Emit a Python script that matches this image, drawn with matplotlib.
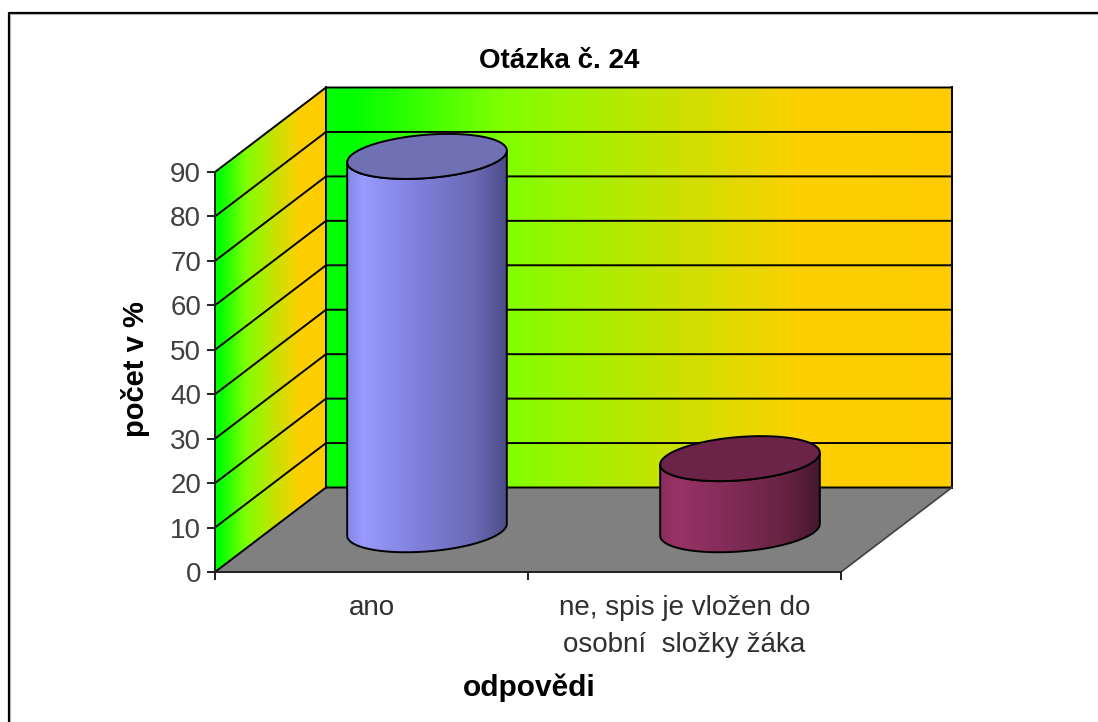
import numpy as np
import matplotlib
matplotlib.use("Agg")
import matplotlib.pyplot as plt
from matplotlib.colors import LinearSegmentedColormap
from matplotlib.patches import Polygon
from matplotlib.lines import Line2D

# ---- data ----
title = "Otázka č. 24"
x_title = "odpovědi"
y_title = "počet v %"
categories = ["ano", "ne, spis je vložen do\nosobní  složky žáka"]
values = [84, 16]
y_ticks = [0, 10, 20, 30, 40, 50, 60, 70, 80, 90]
side_colors = [["#8686e6", "#9999ff", "#7c7cd6", "#6a6ab4", "#4c4c8a"],
               ["#8a2d5c", "#993366", "#7d2a55", "#64233f", "#451730"]]
top_colors = ["#7070b4", "#6b2448"]

W, H = 1098, 722
plt.rcParams["font.family"] = ["Liberation Sans", "DejaVu Sans"]
fig = plt.figure(figsize=(W / 100, H / 100), dpi=100, facecolor="white")

L, R, T, B = 215, 841, 172, 572
ax = fig.add_axes([L / W, 1 - B / H, (R - L) / W, (B - T) / H])
ax.set_xlim(0, len(categories))
ax.set_ylim(0, 90)
ax.patch.set_visible(False)
px_x = (R - L) / len(categories)   # pixels per category
px_y = (B - T) / 90                # pixels per value unit
dx = 111 / px_x                    # depth offset in data units
dy = 84.5 / px_y
n = len(categories)

wall_cmap = LinearSegmentedColormap.from_list(
    "wall", [(0, "#00ff00"), (0.04, "#00ff00"), (0.28, "#80ff00"), (0.5, "#bce600"),
             (0.76, "#fdd000"), (1, "#ffcc00")])
grad = np.linspace(0, 1, 512)[None, :]


def painted(cmap, extent, pts, z):
    im = ax.imshow(grad, cmap=cmap, extent=extent, aspect="auto",
                   interpolation="bilinear", zorder=z)
    im.set_clip_path(Polygon(pts, closed=True, transform=ax.transData))
    im.set_clip_box(fig.bbox)
    return im


# floor
ax.add_patch(Polygon([(0, 0), (dx, dy), (n + dx, dy), (n, 0)], closed=True,
                     fc="#808080", ec="none", zorder=1, clip_on=False))
# walls
painted(wall_cmap, (0, dx, 0, 90 + dy), [(0, 0), (dx, dy), (dx, 90 + dy), (0, 90)], 1)
painted(wall_cmap, (dx, n + dx, 0, 90 + dy),
        [(dx, dy), (n + dx, dy), (n + dx, 90 + dy), (dx, 90 + dy)], 1)

# grid
for v in y_ticks:
    ax.plot([0, dx, n + dx], [v, v + dy, v + dy], color="black", lw=1.4,
            zorder=2, clip_on=False)
ax.plot([dx, dx], [dy, 90 + dy], color="black", lw=1.4, zorder=2, clip_on=False)
ax.plot([n + dx, n + dx], [dy, 90 + dy], color="black", lw=1.4, zorder=2, clip_on=False)
ax.plot([n, n + dx], [0, dy], color="#404040", lw=1.2, zorder=2, clip_on=False)

# cylinders
a, b, h = 77 / px_x, 21 / px_x, 22.5 / px_y
t0 = np.arctan2(b, a)


def ell(cx, cy, t):
    return cx + a * np.cos(t) + b * np.sin(t), cy + h * np.sin(t)


for i, (val, sc, tc) in enumerate(zip(values, side_colors, top_colors)):
    cx = i + 0.5 + dx / 2
    cy0 = dy / 2
    cy1 = cy0 + val
    front = np.linspace(t0 + np.pi, t0 + 2 * np.pi, 80)
    xb, yb = ell(cx, cy0, front)
    xt, yt = ell(cx, cy1, front[::-1])
    side = np.column_stack([np.r_[xb, xt], np.r_[yb, yt]])
    cm = LinearSegmentedColormap.from_list("side", list(zip([0, .1, .5, .8, 1], sc)))
    half = np.hypot(a, b)
    painted(cm, (cx - half, cx + half, cy0 - h, cy1 + h), side, 3 + i)
    ax.add_patch(Polygon(side, closed=True, fc="none", ec="black", lw=1.4,
                         zorder=3.1 + i, clip_on=False))
    tt = np.linspace(0, 2 * np.pi, 160)
    xe, ye = ell(cx, cy1, tt)
    ax.add_patch(Polygon(np.column_stack([xe, ye]), closed=True, fc=tc, ec="black",
                         lw=1.4, zorder=3.2 + i, clip_on=False))

ax.set_xlim(0, n)
ax.set_ylim(0, 90)

# axes
for s in ["top", "right"]:
    ax.spines[s].set_visible(False)
for s in ["left", "bottom"]:
    ax.spines[s].set_linewidth(1.4)
    ax.spines[s].set_color("#202020")
    ax.spines[s].set_zorder(6)
ax.set_yticks(y_ticks)
ax.set_xticks(range(n + 1))
ax.set_xticklabels([])
ax.set_xticks([i + 0.5 for i in range(n)], minor=True)
ax.set_xticklabels(categories, minor=True, fontsize=20, color="#303030",
                   linespacing=1.55, va="top")
ax.tick_params(axis="x", which="minor", length=0, pad=16.5)
ax.tick_params(axis="x", which="major", length=6, width=1.4, color="#202020")
ax.tick_params(axis="y", length=6, width=1.4, color="#202020", labelsize=20,
               labelcolor="#404040", pad=4)

# titles
fig.text(559 / W, 1 - 61 / H, title, ha="center", va="center", fontsize=20,
         fontweight="bold", color="black")
fig.text(136 / W, 1 - 369 / H, y_title, ha="center", va="center", rotation=90,
         fontsize=21, fontweight="bold", color="black")
fig.text(529 / W, 1 - 688 / H, x_title, ha="center", va="center", fontsize=21.5,
         fontweight="bold", color="black")

# outer border (open at right and bottom)
fig.add_artist(Line2D([8.5 / W, 8.5 / W, 1], [0, 1 - 12.5 / H, 1 - 12.5 / H],
                      transform=fig.transFigure, color="black", lw=1.6))
fig.add_artist(Line2D([10 / W, 10 / W, 1], [0, 1 - 14 / H, 1 - 14 / H],
                      transform=fig.transFigure, color="#b0b0b0", lw=0.8))

fig.savefig("out.png", dpi=100, facecolor="white")
